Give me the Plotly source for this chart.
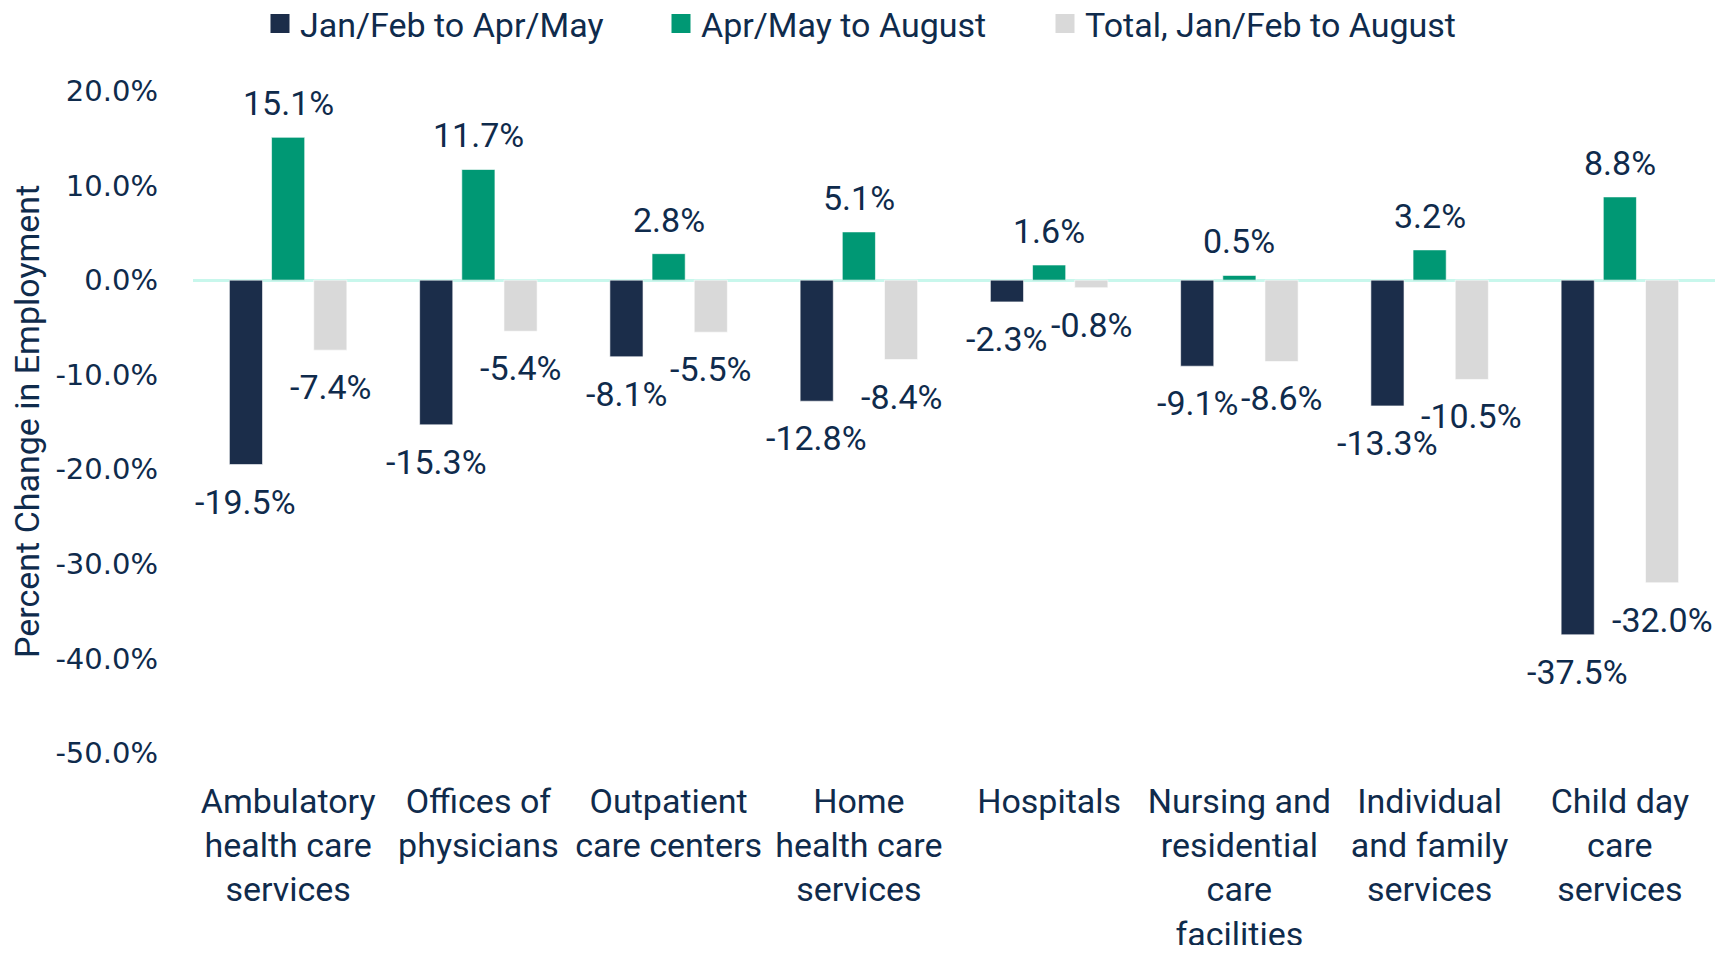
import plotly.graph_objects as go

categories = [
    "Ambulatory<br>health care<br>services",
    "Offices of<br>physicians",
    "Outpatient<br>care centers",
    "Home<br>health care<br>services",
    "Hospitals",
    "Nursing and<br>residential<br>care<br>facilities",
    "Individual<br>and family<br>services",
    "Child day<br>care<br>services",
]
series_names = ["Jan/Feb to Apr/May", "Apr/May to August", "Total, Jan/Feb to August"]
jan_to_apr = [-19.5, -15.3, -8.1, -12.8, -2.3, -9.1, -13.3, -37.5]
apr_to_aug = [15.1, 11.7, 2.8, 5.1, 1.6, 0.5, 3.2, 8.8]
total = [-7.4, -5.4, -5.5, -8.4, -0.8, -8.6, -10.5, -32.0]
tick_vals = [20, 10, 0, -10, -20, -30, -40, -50]
tick_text = ["20.0%", "10.0%", "0.0%", "-10.0%", "-20.0%", "-30.0%", "-40.0%", "-50.0%"]
y_title = "Percent Change in Employment"

colors = ["#1b2d4a", "#009874", "#d9d9d9"]
text_color = "#0f2b4c"
label_font = "Roboto, Lato, sans-serif"

# page has an 8px body margin, so the figure is sized to fit inside the window
W, H = 1712, 937
ml, mr, mt, mb = 185, 5, 83, 192

legend_ids = ["legend", "legend2", "legend3"]
legend_left_px = [252, 653, 1037]   # left edge of each legend entry (figure px)

fig = go.Figure()
all_series = [jan_to_apr, apr_to_aug, total]
for name, vals, col in zip(series_names, all_series, colors):
    fig.add_trace(go.Bar(
        x=categories, y=vals, name=name, legendgroup=name, showlegend=False,
        marker=dict(color=col, line=dict(color="rgba(255,255,255,0.6)", width=1)),
    ))
# legend entries (square swatches)
for name, col, lid in zip(series_names, colors, legend_ids):
    fig.add_trace(go.Scatter(
        x=[None], y=[None], name=name, legendgroup=name, mode="markers",
        legend=lid,
        marker=dict(symbol="square", size=16, color=col, line=dict(color=col, width=3)),
        hoverinfo="skip",
    ))

# data labels
plot_w = W - ml - mr
plot_h = H - mt - mb
cat_w = plot_w / len(categories)
bargap = 0.335
slot = (1 - bargap) / 3 * cat_w
annotations = []
for si, vals in enumerate(all_series):
    xs = (si - 1) * slot
    for cat, v in zip(categories, vals):
        annotations.append(dict(
            x=cat, y=v, xref="x", yref="y",
            text=f"{v:.1f}%", showarrow=False,
            xshift=xs, yshift=(34 if v >= 0 else -37),
            yanchor="middle", xanchor="center",
            font=dict(family=label_font, size=34, color=text_color),
        ))
# y-axis title
annotations.append(dict(
    x=0, y=0.5, xref="paper", yref="paper", text=y_title, showarrow=False,
    textangle=-90, xanchor="center", yanchor="middle", xshift=-166,
    font=dict(family=label_font, size=34, color=text_color),
))

legend_center_px = 16  # from figure top
legend_common = dict(
    orientation="h", xref="container", yref="paper", xanchor="left",
    y=1 + (mt - legend_center_px) / plot_h, yanchor="middle",
    font=dict(family=label_font, size=34, color=text_color),
    itemsizing="trace", bgcolor="rgba(0,0,0,0)",
)
legend_layout = {lid: dict(legend_common, x=px / W) for lid, px in zip(legend_ids, legend_left_px)}

fig.update_layout(
    width=W, height=H,
    margin=dict(l=ml, r=mr, t=mt, b=mb, autoexpand=False),
    paper_bgcolor="white", plot_bgcolor="white",
    barmode="group", bargap=bargap, bargroupgap=0.214,
    annotations=annotations,
    showlegend=True,
    **legend_layout,
    xaxis=dict(
        showgrid=False, showline=False, zeroline=False,
        tickfont=dict(family=label_font, size=34, color=text_color),
        ticklabelstandoff=25,
    ),
    yaxis=dict(
        range=[-50, 20], showgrid=False, showline=False,
        zeroline=True, zerolinecolor="#c8f7ec", zerolinewidth=3,
        tickvals=tick_vals, ticktext=tick_text,
        tickfont=dict(family="DejaVu Sans, Verdana, sans-serif", size=29, color=text_color),
        ticklabelstandoff=34,
    ),
)

fig.write_html("out.html")
